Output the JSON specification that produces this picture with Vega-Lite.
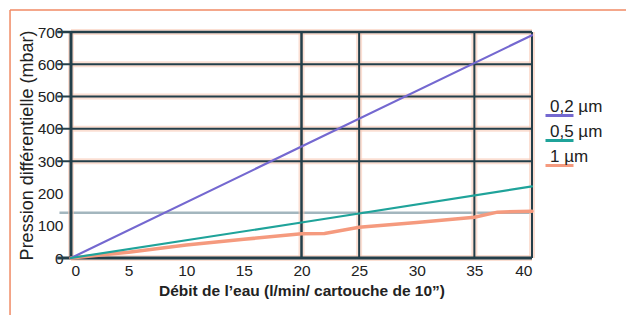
{
  "$schema": "https://vega.github.io/schema/vega-lite/v6.json",
  "width": 461,
  "height": 226,
  "autosize": "none",
  "padding": {"left": 71, "top": 32, "right": 94, "bottom": 57},
  "background": "white",
  "config": {
    "view": {"stroke": null},
    "font": "Liberation Sans",
    "axis": {
      "domain": false, "ticks": false, "grid": false, "labelOverlap": false, "labelBound": false,
      "labelFontSize": 15.5, "labelColor": "#222", "titleColor": "#222"
    },
    "axisX": {"labelPadding": 5, "titleFontSize": 15.5, "titleFontWeight": "bold", "titlePadding": 5},
    "axisY": {"labelPadding": 8, "titleFontSize": 18, "titleFontWeight": "normal", "titlePadding": 1}
  },
  "datasets": {
    "series": [
      {"debit": 0, "pression": 0, "filtre": "0,2 µm"},
      {"debit": 20, "pression": 345, "filtre": "0,2 µm"},
      {"debit": 40, "pression": 690, "filtre": "0,2 µm"},
      {"debit": 0, "pression": 0, "filtre": "0,5 µm"},
      {"debit": 20, "pression": 110, "filtre": "0,5 µm"},
      {"debit": 40, "pression": 222, "filtre": "0,5 µm"},
      {"debit": 0, "pression": 0, "filtre": "1 µm"},
      {"debit": 5, "pression": 18, "filtre": "1 µm"},
      {"debit": 10, "pression": 40, "filtre": "1 µm"},
      {"debit": 15, "pression": 58, "filtre": "1 µm"},
      {"debit": 20, "pression": 75, "filtre": "1 µm"},
      {"debit": 22, "pression": 76, "filtre": "1 µm"},
      {"debit": 25, "pression": 95, "filtre": "1 µm"},
      {"debit": 30, "pression": 110, "filtre": "1 µm"},
      {"debit": 35, "pression": 126, "filtre": "1 µm"},
      {"debit": 37, "pression": 142, "filtre": "1 µm"},
      {"debit": 40, "pression": 145, "filtre": "1 µm"}
    ],
    "vgrid": [{"x": 0, "w": 3}, {"x": 20, "w": 2.5}, {"x": 25, "w": 2}, {"x": 35, "w": 2}, {"x": 40, "w": 2}],
    "hgrid": [{"y": 0, "w": 3}, {"y": 300, "w": 2}, {"y": 400, "w": 2}, {"y": 500, "w": 2}, {"y": 600, "w": 2}, {"y": 700, "w": 2.5}],
    "lgrid": [{"y": 140}],
    "one": [{}]
  },
  "layer": [
    {
      "data": {"name": "series"},
      "mark": {"type": "line", "strokeWidth": 2.2, "opacity": 0},
      "encoding": {
        "x": {
          "field": "debit", "type": "quantitative",
          "scale": {"domain": [0, 40], "nice": false},
          "axis": {
            "values": [0, 5, 10, 15, 20, 25, 30, 35, 40],
            "title": "Débit de l’eau (l/min/ cartouche de 10”)"
          }
        },
        "y": {
          "field": "pression", "type": "quantitative",
          "scale": {"domain": [0, 700], "nice": false},
          "axis": {
            "values": [0, 100, 200, 300, 400, 500, 600, 700],
            "tickCount": 8,
            "labelOverlap": false,
            "title": "Pression différentielle (mbar)"
          }
        },
        "color": {
          "field": "filtre", "type": "nominal",
          "scale": {"domain": ["0,2 µm", "0,5 µm", "1 µm"], "range": ["#7468d0", "#1fa39a", "#f59a7e"]},
          "legend": {
            "orient": "none", "legendX": 473, "legendY": 68, "title": null,
            "symbolType": "stroke", "symbolSize": 784, "symbolStrokeWidth": 3, "symbolOpacity": 1,
            "labelOffset": -25, "labelBaseline": "bottom", "labelFontSize": 17, "labelColor": "#222",
            "rowPadding": 0, "padding": 0
          }
        }
      }
    },
    {
      "data": {"name": "one"},
      "mark": {"type": "rule", "color": "#f08a64", "strokeWidth": 1.5},
      "encoding": {
        "x": {"datum": -5.29, "type": "quantitative"},
        "x2": {"datum": 48.2},
        "y": {"datum": 768.1, "type": "quantitative"}
      }
    },
    {
      "data": {"name": "one"},
      "mark": {"type": "rule", "color": "#f08a64", "strokeWidth": 1.5},
      "encoding": {
        "x": {"datum": -5.29, "type": "quantitative"},
        "y": {"datum": 768.1, "type": "quantitative"},
        "y2": {"datum": -180}
      }
    },
    {
      "data": {"name": "lgrid"},
      "mark": {"type": "rule", "color": "#a3b6be", "strokeWidth": 2.5},
      "encoding": {
        "y": {"field": "y", "type": "quantitative"},
        "x": {"datum": -1, "type": "quantitative"},
        "x2": {"datum": 40}
      }
    },
    {
      "data": {"name": "vgrid"},
      "mark": {"type": "rule", "color": "#f8c9b6", "strokeWidth": 6, "opacity": 0.6},
      "encoding": {
        "x": {"field": "x", "type": "quantitative"}
      }
    },
    {
      "data": {"name": "hgrid"},
      "mark": {"type": "rule", "color": "#f8c9b6", "strokeWidth": 6, "opacity": 0.6},
      "encoding": {
        "y": {"field": "y", "type": "quantitative"},
        "x": {"datum": 0, "type": "quantitative"},
        "x2": {"datum": 40}
      }
    },
    {
      "data": {"name": "vgrid"},
      "mark": {"type": "rule", "color": "#233f4a"},
      "encoding": {
        "x": {"field": "x", "type": "quantitative"},
        "strokeWidth": {"field": "w", "type": "quantitative", "scale": null}
      }
    },
    {
      "data": {"name": "hgrid"},
      "mark": {"type": "rule", "color": "#233f4a"},
      "encoding": {
        "y": {"field": "y", "type": "quantitative"},
        "x": {"datum": -1.2, "type": "quantitative"},
        "x2": {"datum": 40},
        "strokeWidth": {"field": "w", "type": "quantitative", "scale": null}
      }
    },
    {
      "data": {"name": "series"},
      "transform": [{"filter": "datum.filtre == '1 µm'"}],
      "mark": {"type": "line", "strokeCap": "round", "strokeWidth": 3.5, "color": "#f59a7e"},
      "encoding": {
        "x": {"field": "debit", "type": "quantitative"},
        "y": {"field": "pression", "type": "quantitative"}
      }
    },
    {
      "data": {"name": "series"},
      "transform": [{"filter": "datum.filtre != '1 µm'"}],
      "mark": {"type": "line", "strokeCap": "round", "strokeWidth": 2.2},
      "encoding": {
        "x": {"field": "debit", "type": "quantitative"},
        "y": {"field": "pression", "type": "quantitative"},
        "color": {"field": "filtre", "type": "nominal"}
      }
    }
  ]
}
